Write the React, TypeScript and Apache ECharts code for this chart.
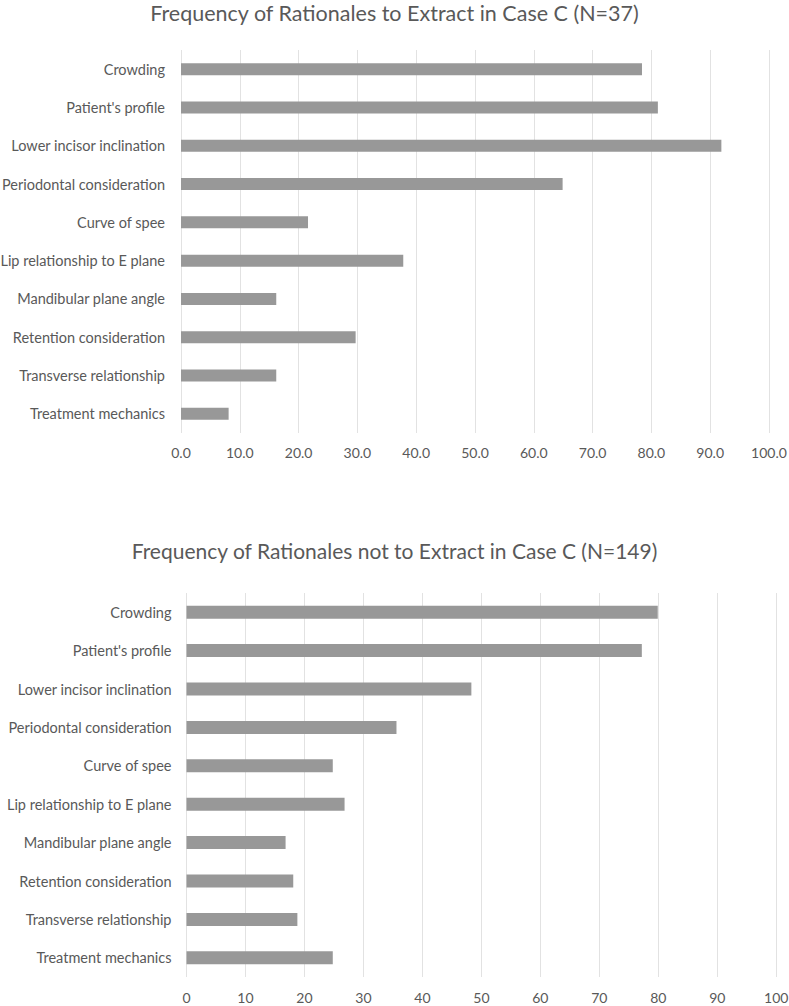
import React, { useEffect, useRef } from "react";
import * as echarts from "echarts";

const categories = [
  "Crowding",
  "Patient's profile",
  "Lower incisor inclination",
  "Periodontal consideration",
  "Curve of spee",
  "Lip relationship to E plane",
  "Mandibular plane angle",
  "Retention consideration",
  "Transverse relationship",
  "Treatment mechanics",
];

const extractValues = [78.4, 81.1, 91.9, 64.9, 21.6, 37.8, 16.2, 29.7, 16.2, 8.1];
const notExtractValues = [79.9, 77.2, 48.3, 35.6, 24.8, 26.8, 16.8, 18.1, 18.8, 24.8];

const titleTop = "Frequency of Rationales to Extract in Case C (N=37)";
const titleBottom = "Frequency of Rationales not to Extract in Case C (N=149)";

const FONT = "Lato";
const TEXT = "#595959";
const GRIDC = "#e2e2e2";
const BAR = "#989898";

export default function App() {
  const ref = useRef<HTMLDivElement>(null);
  useEffect(() => {
    document.body.style.margin = "0";
    const chart = echarts.init(ref.current!, null, { renderer: "svg" });
    const yAxisBase = (gridIndex: number, margin: number) => ({
      type: "category" as const,
      gridIndex,
      data: categories,
      inverse: true,
      axisLine: { show: false },
      axisTick: { show: false },
      axisLabel: { color: TEXT, fontFamily: FONT, fontSize: 14.5, margin },
    });
    const xAxisBase = (gridIndex: number, decimals: boolean, margin: number) => ({
      type: "value" as const,
      gridIndex,
      min: 0,
      max: 100,
      interval: 10,
      axisLine: { show: false },
      axisTick: { show: false },
      splitLine: { show: true, lineStyle: { color: GRIDC, width: 1 } },
      axisLabel: {
        color: TEXT,
        fontFamily: FONT,
        fontSize: 14,
        margin,
        formatter: (v: number) => (decimals ? v.toFixed(1) : String(v)),
      },
    });
    chart.setOption({
      animation: false,
      backgroundColor: "#ffffff",
      title: [
        {
          text: titleTop,
          left: "center",
          top: -3,
          textStyle: { color: TEXT, fontFamily: FONT, fontSize: 21.5, fontWeight: "normal" },
        },
        {
          text: titleBottom,
          left: "center",
          top: 535,
          textStyle: { color: TEXT, fontFamily: FONT, fontSize: 21, fontWeight: "normal" },
        },
      ],
      grid: [
        { left: 181, right: 20, top: 50, height: 383, outerBoundsMode: "none", containLabel: false },
        { left: 186.5, right: 12.7, top: 593, height: 384, outerBoundsMode: "none", containLabel: false },
      ],
      xAxis: [xAxisBase(0, true, 12), xAxisBase(1, false, 13)],
      yAxis: [yAxisBase(0, 16), yAxisBase(1, 15)],
      series: [
        {
          type: "bar",
          xAxisIndex: 0,
          yAxisIndex: 0,
          data: extractValues,
          barWidth: 12,
          itemStyle: { color: BAR },
        },
        {
          type: "bar",
          xAxisIndex: 1,
          yAxisIndex: 1,
          data: notExtractValues,
          barWidth: 13,
          itemStyle: { color: BAR },
        },
      ],
    });
    return () => chart.dispose();
  }, []);
  return <div ref={ref} style={{ width: 789, height: 1006 }} />;
}
